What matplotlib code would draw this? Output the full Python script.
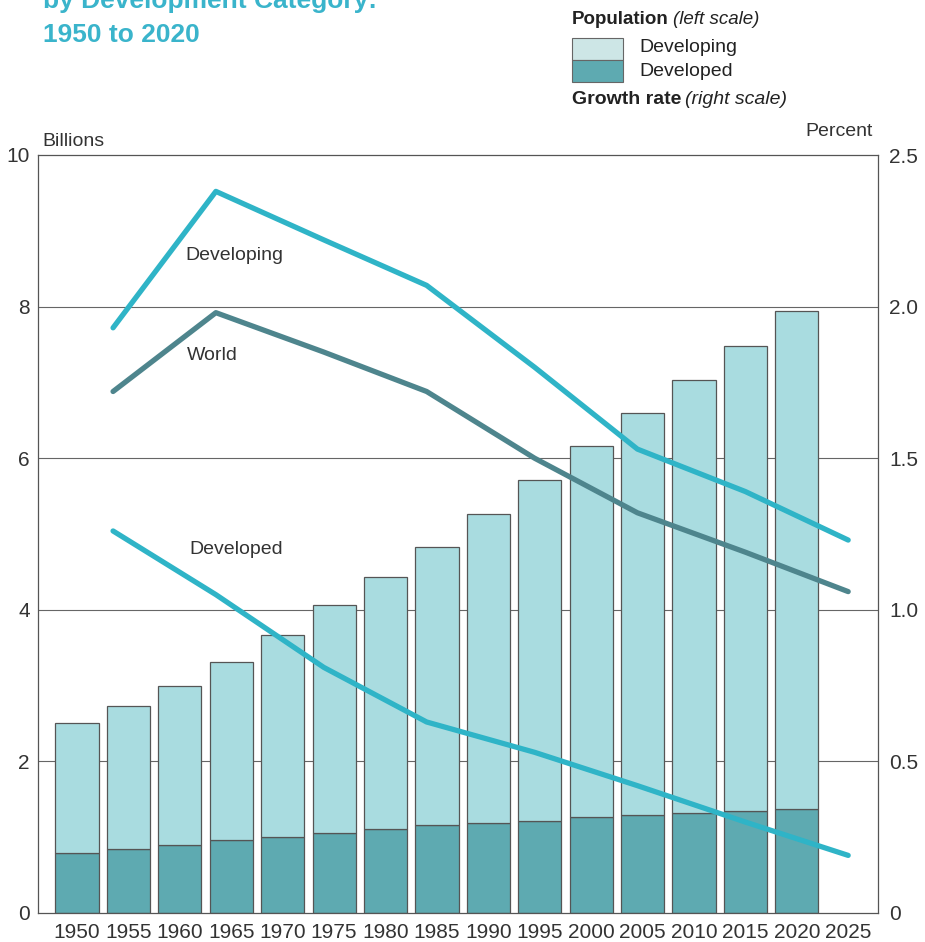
import matplotlib
matplotlib.use("Agg")
import matplotlib.pyplot as plt
from matplotlib.patches import Rectangle
import numpy as np

plt.rcParams['font.family'] = ['Liberation Sans', 'DejaVu Sans']

# ---- data ----
years = [1950, 1955, 1960, 1965, 1970, 1975, 1980, 1985, 1990, 1995,
         2000, 2005, 2010, 2015, 2020]
tick_years = years + [2025]
total_pop = [2.51, 2.73, 2.99, 3.31, 3.67, 4.06, 4.43, 4.83, 5.27, 5.71,
             6.16, 6.60, 7.03, 7.48, 7.94]
developed_pop = [0.79, 0.85, 0.90, 0.96, 1.00, 1.06, 1.11, 1.16, 1.19, 1.22,
                 1.26, 1.29, 1.32, 1.35, 1.37]
rate_years = [1953.5, 1963.5, 1974, 1984, 1994.5, 2004.5, 2015, 2025]
rate_developing = [1.93, 2.38, 2.22, 2.07, 1.80, 1.53, 1.39, 1.23]
rate_world = [1.72, 1.98, 1.85, 1.72, 1.50, 1.32, 1.19, 1.06]
rate_developed = [1.26, 1.05, 0.81, 0.63, 0.53, 0.42, 0.30, 0.19]
left_ticks = [0, 2, 4, 6, 8, 10]
right_ticks = [0, 0.5, 1.0, 1.5, 2.0, 2.5]
right_labels = ['0', '0.5', '1.0', '1.5', '2.0', '2.5']

developing_pop = [t - d for t, d in zip(total_pop, developed_pop)]

C_DEVING = '#a9dce0'
C_DEVED = '#5eaab1'
C_LINE = '#2fb4c7'
C_WORLD = '#4e858d'
C_EDGE = '#555555'
C_TEXT = '#333333'
C_TITLE = '#3ab4cb'

fig = plt.figure(figsize=(9.25, 9.42), dpi=100)
ax = fig.add_axes([38/925, 29/942, (878-38)/925, (913-155)/942])

ax.set_xlim(1946.2, 2027.9)
ax.set_ylim(0, 10)

# gridlines
for v in [2, 4, 6, 8]:
    ax.axhline(v, color='#666666', lw=0.8, zorder=0)

w = 4.2
ax.bar(years, developed_pop, width=w, color=C_DEVED, edgecolor=C_EDGE,
       linewidth=0.9, zorder=2)
ax.bar(years, developing_pop, width=w, bottom=developed_pop, color=C_DEVING,
       edgecolor=C_EDGE, linewidth=0.9, zorder=2)

for s in ['left', 'right', 'top', 'bottom']:
    ax.spines[s].set_color('#555555')
    ax.spines[s].set_linewidth(0.9)

ax.set_yticks(left_ticks)
ax.set_yticklabels([str(v) for v in left_ticks])
ax.tick_params(axis='y', length=0, pad=6, labelsize=15, labelcolor=C_TEXT)
ax.set_xticks(tick_years)
ax.set_xticklabels([str(y) for y in tick_years])
ax.tick_params(axis='x', length=0, pad=7, labelsize=15, labelcolor=C_TEXT)

ax2 = ax.twinx()
ax2.set_ylim(0, 2.5)
ax2.set_yticks(right_ticks)
ax2.set_yticklabels(right_labels)
ax2.tick_params(axis='y', length=0, pad=8, labelsize=15, labelcolor=C_TEXT)
for s in ['left', 'right', 'top', 'bottom']:
    ax2.spines[s].set_visible(False)

ax2.plot(rate_years, rate_developing, color=C_LINE, lw=3.8,
         solid_capstyle='round', solid_joinstyle='round', zorder=3)
ax2.plot(rate_years, rate_world, color=C_WORLD, lw=3.8,
         solid_capstyle='round', solid_joinstyle='round', zorder=3)
ax2.plot(rate_years, rate_developed, color=C_LINE, lw=3.8,
         solid_capstyle='round', solid_joinstyle='round', zorder=3)

ax2.text(1960.5, 2.17, 'Developing', fontsize=14, color=C_TEXT, va='center')
ax2.text(1960.7, 1.84, 'World', fontsize=14, color=C_TEXT, va='center')
ax2.text(1960.9, 1.20, 'Developed', fontsize=14, color=C_TEXT, va='center')

# axis titles
fig.text(42/925, 1-142/942, 'Billions', fontsize=14, color=C_TEXT, va='center')
fig.text(873/925, 1-131/942, 'Percent', fontsize=14, color=C_TEXT, va='center', ha='right')

# title (partially cut at top, as in the source)
fig.text(43/925, 1-8/942, 'by Development Category:', fontsize=19,
         fontweight='bold', color=C_TITLE, va='baseline')
fig.text(43/925, 1-42/942, '1950 to 2020', fontsize=19,
         fontweight='bold', color=C_TITLE, va='baseline')

# legend
fig.text(572/925, 1-20/942, 'Population', fontsize=13.5, fontweight='bold',
         color='#222222', va='center')
fig.text(673/925, 1-20/942, '(left scale)', fontsize=13.5, style='italic',
         color='#222222', va='center')
fig.add_artist(Rectangle((572/925, 1-60/942), 51/925, 22/942,
                         transform=fig.transFigure, facecolor='#cde6e6',
                         edgecolor='#666666', lw=0.8))
fig.add_artist(Rectangle((572/925, 1-82/942), 51/925, 22/942,
                         transform=fig.transFigure, facecolor=C_DEVED,
                         edgecolor='#666666', lw=0.8))
fig.text(639/925, 1-48/942, 'Developing', fontsize=14, color='#222222', va='center')
fig.text(639/925, 1-72/942, 'Developed', fontsize=14, color='#222222', va='center')
fig.text(572/925, 1-100/942, 'Growth rate', fontsize=14, fontweight='bold',
         color='#222222', va='center')
fig.text(685/925, 1-100/942, '(right scale)', fontsize=14, style='italic',
         color='#222222', va='center')

fig.savefig('out.png', dpi=100, facecolor='white')
